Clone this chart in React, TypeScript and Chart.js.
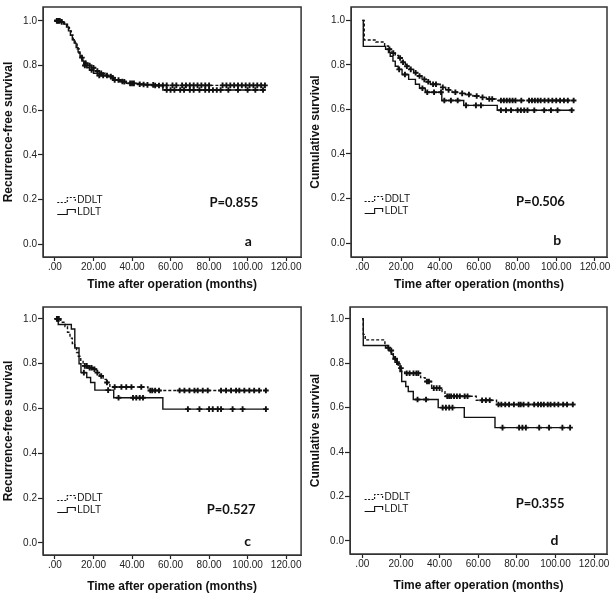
import React, { useEffect, useRef } from 'react';
import { Chart, registerables } from 'chart.js';

Chart.register(...registerables);

type Pair = [number, number];

// ---------------- data ----------------
const timeTicks = [0, 20, 40, 60, 80, 100, 120];
const survivalTicks = [0, 0.2, 0.4, 0.6, 0.8, 1.0];
const groups = ['DDLT', 'LDLT'];
const xAxisTitle = 'Time after operation (months)';
const yTitles = ['Recurrence-free survival', 'Cumulative survival', 'Recurrence-free survival', 'Cumulative survival'];
const pValues = ['P=0.855', 'P=0.506', 'P=0.527', 'P=0.355'];
const panelLetters = ['a', 'b', 'c', 'd'];

// Panel a – recurrence-free survival (all)
const aDdltEvents: Pair[] = [
  [0, 1], [3, 0.993], [5, 0.985], [6.5, 0.97], [7.5, 0.955], [8.5, 0.935], [9.5, 0.915], [10.5, 0.895],
  [11.5, 0.875], [12.5, 0.855], [13.5, 0.835], [14.5, 0.82], [15.5, 0.81], [17, 0.8], [19, 0.79], [21, 0.775],
  [23, 0.765], [26, 0.755], [29, 0.745], [32, 0.735], [35, 0.727], [38, 0.72], [42, 0.716], [47, 0.713], [53, 0.711],
];
const aDdltCensored = [1, 1.5, 2, 2.5, 14, 16, 18, 20, 22, 24, 27, 30, 33, 36, 40, 44, 48, 51, 56, 58, 61, 63, 66, 68, 70, 72, 74, 76, 78, 80, 87, 89, 91, 93, 95, 97, 99, 101, 103, 105, 107, 109];
const aLdltEvents: Pair[] = [
  [0, 1], [2.5, 0.995], [4.5, 0.985], [6, 0.972], [7, 0.955], [8, 0.935], [9, 0.915], [10, 0.9], [11, 0.88],
  [12, 0.86], [13, 0.84], [14, 0.82], [15, 0.8], [16.5, 0.79], [18, 0.78], [20, 0.765], [22, 0.755], [27, 0.75],
  [30, 0.735], [33, 0.728], [37, 0.72], [44, 0.715], [50, 0.71], [56, 0.69],
];
const aLdltCensored = [1, 2, 3.5, 15.5, 19, 23, 25, 29, 31, 35, 39, 41, 46, 52, 54, 58, 60, 62, 65, 67, 70, 72, 75, 78, 80, 82, 84, 86, 90, 95, 100, 104, 108];

// Panel b – cumulative survival (all)
const bDdltEvents: Pair[] = [
  [0, 1], [1, 0.912], [7, 0.903], [11.5, 0.885], [13.5, 0.87], [15.3, 0.853], [17, 0.842], [18.7, 0.831],
  [20.5, 0.812], [22.2, 0.794], [24.5, 0.78], [26.5, 0.765], [28.5, 0.75], [30.8, 0.735], [33, 0.724], [35.1, 0.713],
  [40.2, 0.699], [43, 0.688], [46.3, 0.677], [50, 0.672], [53.1, 0.667], [57, 0.66], [60, 0.654], [64, 0.647], [69.5, 0.64],
];
const bDdltCensored = [14, 16, 19.5, 21, 23, 25, 27.5, 29.5, 32, 34, 36.5, 38, 41.5, 44.5, 48, 51.5, 55, 59, 62, 65.5, 67, 71.5, 73, 74.5, 76, 77.5, 79, 82, 86, 87.5, 89, 90.5, 92, 94, 96, 98, 100, 102, 104, 106, 109];
const bLdltEvents: Pair[] = [
  [0, 1], [0.5, 0.883], [12, 0.87], [13.5, 0.855], [14.4, 0.839], [15.8, 0.817], [17, 0.794], [18.5, 0.78],
  [20.5, 0.757], [23.9, 0.735], [27.4, 0.713], [29.5, 0.695], [32.5, 0.677], [41, 0.64], [52.3, 0.618], [69.6, 0.596],
];
const bLdltCensored = [19, 22, 31, 33.5, 37, 40.6, 42.3, 45.7, 49.2, 53.5, 58.6, 61.2, 71.5, 74.1, 76.7, 80.1, 81.8, 83.5, 85.2, 88.7, 93.8, 97.3, 100.7, 108];

// Panel c – recurrence-free survival (subgroup)
const cDdltEvents: Pair[] = [
  [0, 1], [3, 0.985], [5.2, 0.966], [6.5, 0.94], [7.8, 0.914], [9, 0.89], [10.3, 0.87], [11.2, 0.85], [12.1, 0.833],
  [13.4, 0.81], [14.6, 0.79], [17, 0.782], [19.8, 0.775], [21.5, 0.76], [23.3, 0.745], [25, 0.73], [26.7, 0.716],
  [28.5, 0.696], [48.3, 0.68],
];
const cDdltCensored = [1, 1.5, 2, 15.5, 16.5, 18, 19, 20.5, 22, 24, 27, 31, 34.5, 37, 39.7, 44.8, 49.5, 50.5, 52, 54, 64.7, 67.2, 69.8, 72.4, 74.1, 76.7, 79.3, 86.2, 88.8, 91.4, 94, 95.7, 98.3, 100.9, 103.4, 106, 109.5];
const cLdltEvents: Pair[] = [
  [0, 1], [1.7, 0.975], [8.5, 0.955], [10.3, 0.87], [12.5, 0.8], [13.5, 0.76], [16.5, 0.738], [18.5, 0.716],
  [20.7, 0.682], [30.5, 0.648], [56, 0.597],
];
const cLdltCensored = [15, 27.6, 33, 40.5, 42.2, 44, 45.7, 69, 75, 80, 81.9, 84.5, 86.2, 92.2, 97.4, 109.5];

// Panel d – cumulative survival (subgroup)
const dDdltEvents: Pair[] = [
  [0, 1], [0.5, 0.93], [1.5, 0.905], [11.7, 0.88], [13, 0.87], [14, 0.857], [15.2, 0.843], [16, 0.832], [16.9, 0.82],
  [17.8, 0.805], [18.6, 0.791], [19.5, 0.778], [20.4, 0.762], [22, 0.755], [30.2, 0.735], [32.5, 0.718], [35.9, 0.688],
  [41.3, 0.672], [42.8, 0.651], [59, 0.633], [69.5, 0.614],
];
const dDdltCensored = [13.5, 15, 17, 18, 20, 23, 24.5, 26.5, 28, 29, 33.5, 34.5, 37, 38.5, 40, 44, 45, 46, 47.5, 49, 50.5, 53, 54.5, 62, 64, 66, 70.5, 72, 74, 76, 78.5, 81, 82, 83.5, 86, 89, 91, 92.5, 94, 96, 97.5, 99.5, 101.5, 104, 106, 109];
const dLdltEvents: Pair[] = [
  [0, 1], [0.5, 0.88], [12, 0.868], [13.6, 0.857], [15, 0.84], [16.1, 0.82], [17.8, 0.798], [19.5, 0.762],
  [20.4, 0.718], [22.5, 0.695], [23.8, 0.673], [26.4, 0.637], [39.3, 0.6], [52.8, 0.556], [68.7, 0.51],
];
const dLdltCensored = [28.6, 33, 41.6, 43.3, 45, 46.7, 72.6, 81.2, 82.9, 84.7, 91.6, 96.7, 103.6, 107.6];

const panelData = [
  { ddlt: aDdltEvents, ddltC: aDdltCensored, ldlt: aLdltEvents, ldltC: aLdltCensored },
  { ddlt: bDdltEvents, ddltC: bDdltCensored, ldlt: bLdltEvents, ldltC: bLdltCensored },
  { ddlt: cDdltEvents, ddltC: cDdltCensored, ldlt: cLdltEvents, ldltC: cLdltCensored },
  { ddlt: dDdltEvents, ddltC: dDdltCensored, ldlt: dLdltEvents, ldltC: dLdltCensored },
];

// ---------------- layout ----------------
const W = 307;
const H = 300;
const layouts = [
  { left: 0, top: 0, yWidth: 43, xHeight: 43, padTop: 3, padRight: 5, xMin: -6.21, xMax: 127.76, yMin: -0.0573, yMax: 1.0617, titleBottom: 8, pAt: [80.2, 0.167], letterAt: [100.3, -0.008] },
  { left: 307, top: 0, yWidth: 44, xHeight: 43, padTop: 3, padRight: 7, xMin: -5.83, xMax: 126.2, yMin: -0.0627, yMax: 1.06, titleBottom: 8, pAt: [79.3, 0.165], letterAt: [100.5, -0.008] },
  { left: 0, top: 300, yWidth: 43, xHeight: 45, padTop: 3, padRight: 5, xMin: -6.21, xMax: 127.76, yMin: -0.054, yMax: 1.053, titleBottom: 6, pAt: [78.8, 0.129], letterAt: [100, -0.013] },
  { left: 307, top: 300, yWidth: 43, xHeight: 46, padTop: 2, padRight: 7, xMin: -6.37, xMax: 126.7, yMin: -0.0587, yMax: 1.053, titleBottom: 7, pAt: [79.4, 0.15], letterAt: [99.5, -0.019] },
];
const legendRows = [0.2, 0.146];
const FONT = '"Liberation Sans", Arial, Helvetica, sans-serif';
const INK = '#111';

function survivalAt(events: Pair[], t: number) {
  let s = 1;
  for (const [et, es] of events) if (et <= t) s = es;
  return s;
}
function stepPoints(events: Pair[], censored: number[]) {
  const pts = events.map(([x, y]) => ({ x, y }));
  const end = Math.max(...censored);
  const last = events[events.length - 1];
  if (end > last[0]) pts.push({ x: end, y: last[1] });
  return pts;
}
function censorPoints(events: Pair[], censored: number[]) {
  return censored.map((t) => ({ x: t, y: survivalAt(events, t) }));
}

function KMPanel({ idx }: { idx: number }) {
  const ref = useRef<HTMLCanvasElement | null>(null);
  useEffect(() => {
    const L = layouts[idx];
    const D = panelData[idx];
    const annot = {
      id: 'kmAnnot' + idx,
      afterDraw(chart: any) {
        const { ctx, chartArea: a } = chart;
        const xs = chart.scales.x;
        const ys = chart.scales.y;
        ctx.save();
        ctx.strokeStyle = '#333';
        ctx.lineWidth = 1.5;
        ctx.setLineDash([]);
        ctx.strokeRect(a.left, a.top, a.right - a.left, a.bottom - a.top);
        // legend
        const gx = xs.getPixelForValue(1.2);
        groups.forEach((g, i) => {
          const yy = Math.round(ys.getPixelForValue(legendRows[i])) + 0.5;
          ctx.beginPath();
          ctx.setLineDash(i === 0 ? [2, 1.5] : []);
          ctx.lineWidth = 1.1;
          ctx.strokeStyle = INK;
          ctx.moveTo(gx, yy + 2);
          ctx.lineTo(gx + 10, yy + 2);
          ctx.lineTo(gx + 10, yy - 3);
          ctx.lineTo(gx + 18, yy - 3);
          ctx.lineTo(gx + 18, yy + 0.5);
          ctx.stroke();
          ctx.setLineDash([]);
          ctx.fillStyle = INK;
          ctx.font = '10px "Liberation Sans Narrow", "Arial Narrow", ' + FONT;
          ctx.textBaseline = 'middle';
          ctx.textAlign = 'left';
          ctx.fillText(g, gx + 20, yy);
        });
        // p value
        ctx.fillStyle = INK;
        ctx.font = 'bold 13px Lato, "Open Sans", sans-serif';
        ctx.textBaseline = 'alphabetic';
        ctx.textAlign = 'left';
        ctx.fillText(pValues[idx], xs.getPixelForValue(L.pAt[0]), ys.getPixelForValue(L.pAt[1]));
        ctx.font = 'bold 14px Lato, "Open Sans", sans-serif';
        ctx.textAlign = 'center';
        ctx.fillText(panelLetters[idx], xs.getPixelForValue(L.letterAt[0]), ys.getPixelForValue(L.letterAt[1]));
        ctx.restore();
      },
    };
    const lineDs = (label: string, data: any, dash: number[]) => ({
      label,
      data,
      borderColor: INK,
      backgroundColor: INK,
      borderWidth: 1.4,
      borderDash: dash,
      stepped: 'before' as const,
      pointRadius: 0,
      fill: false,
    });
    const censorDs = (label: string, data: any) => ({
      label,
      data,
      showLine: false,
      pointStyle: 'cross' as const,
      pointRadius: 2.8,
      pointBorderWidth: 1.9,
      pointBorderColor: INK,
      borderColor: INK,
      backgroundColor: INK,
    });
    const chart = new Chart(ref.current as HTMLCanvasElement, {
      type: 'line',
      data: {
        datasets: [
          lineDs(groups[0], stepPoints(D.ddlt, D.ddltC), [3, 2]),
          lineDs(groups[1], stepPoints(D.ldlt, D.ldltC), []),
          censorDs(groups[0] + ' censored', censorPoints(D.ddlt, D.ddltC)),
          censorDs(groups[1] + ' censored', censorPoints(D.ldlt, D.ldltC)),
        ] as any,
      },
      options: {
        responsive: false,
        animation: false,
        devicePixelRatio: 1,
        layout: { padding: { left: 0, top: L.padTop, right: L.padRight, bottom: 0 } },
        plugins: { legend: { display: false }, tooltip: { enabled: false } },
        events: [],
        scales: {
          x: {
            type: 'linear',
            min: L.xMin,
            max: L.xMax,
            afterBuildTicks: (s: any) => {
              s.ticks = timeTicks.map((v) => ({ value: v }));
            },
            afterFit: (s: any) => {
              s.height = L.xHeight;
            },
            ticks: {
              callback: (v: any) => (Number(v) === 0 ? '.00' : Number(v).toFixed(2)),
              font: { size: 10, family: FONT },
              color: '#222',
              padding: 0,
              maxRotation: 0,
              autoSkip: false,
            },
            grid: { display: true, drawOnChartArea: false, drawTicks: true, tickLength: 4, tickColor: '#222', tickWidth: 1.2 },
            border: { display: true, color: '#333', width: 1 },
            title: {
              display: true,
              text: xAxisTitle,
              font: { size: 12, weight: 'bold', family: FONT },
              color: INK,
              padding: { top: 0, bottom: L.titleBottom },
            },
          },
          y: {
            type: 'linear',
            min: L.yMin,
            max: L.yMax,
            afterBuildTicks: (s: any) => {
              s.ticks = survivalTicks.map((v) => ({ value: v }));
            },
            afterFit: (s: any) => {
              s.width = L.yWidth;
            },
            ticks: {
              callback: (v: any) => Number(v).toFixed(1),
              font: { size: 10, family: FONT },
              color: '#222',
              padding: 1,
            },
            grid: { display: true, drawOnChartArea: false, drawTicks: true, tickLength: 5, tickColor: '#222', tickWidth: 1.2 },
            border: { display: true, color: '#333', width: 1 },
            title: {
              display: true,
              text: yTitles[idx],
              font: { size: 12, weight: 'bold', family: FONT },
              color: INK,
              padding: { top: 1, bottom: 0 },
            },
          },
        },
      } as any,
      plugins: [annot],
    });
    return () => chart.destroy();
  }, [idx]);
  const L = layouts[idx];
  return (
    <canvas
      ref={ref}
      width={W}
      height={H}
      style={{ position: 'absolute', left: L.left, top: L.top, width: W, height: H }}
    />
  );
}

export default function App() {
  return (
    <div style={{ position: 'absolute', left: 0, top: 0, width: 614, height: 600, background: '#fff' }}>
      {[0, 1, 2, 3].map((i) => (
        <KMPanel key={i} idx={i} />
      ))}
    </div>
  );
}
